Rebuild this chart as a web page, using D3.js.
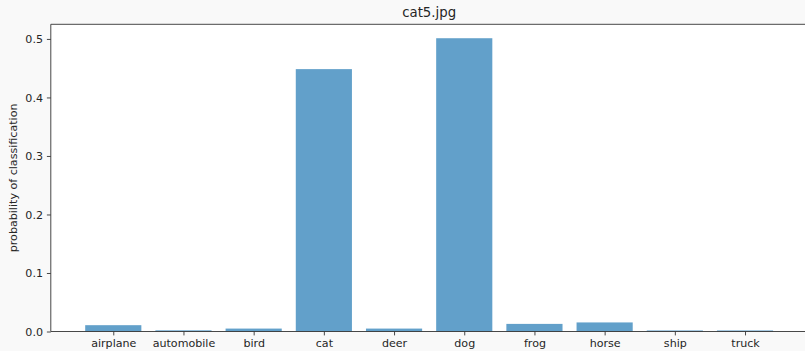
<!DOCTYPE html>
<html><head><meta charset="utf-8">
<script src="https://cdn.jsdelivr.net/npm/d3@7"></script>
<style>
body{margin:0;background:#f9f9f9;}
svg{display:block;font-family:"DejaVu Sans",sans-serif;}
</style></head><body>
<svg id="c" width="805" height="351"></svg>
<script>
const categories = ["airplane","automobile","bird","cat","deer","dog","frog","horse","ship","truck"];
const values = [0.0108, 0.002, 0.005, 0.4484, 0.005, 0.5012, 0.013, 0.0155, 0.0018, 0.0018];
const yTicks = [0.0, 0.1, 0.2, 0.3, 0.4, 0.5];
const title = "cat5.jpg";
const yLabel = "probability of classification";

const svg = d3.select("#c");
const L = 50.8, R = 807.5, T = 24.3, B = 331.5;
const x = d3.scaleLinear().domain([-0.89, 9.89]).range([L, R]);
const y = d3.scaleLinear().domain([0, 0.525]).range([B, T]);
const bw = x(0.8) - x(0);

svg.append("rect").attr("width",805).attr("height",351).attr("fill","#f9f9f9");
svg.append("rect").attr("x",L).attr("y",T).attr("width",R-L).attr("height",B-T).attr("fill","#fff");

svg.selectAll("rect.bar").data(values).enter().append("rect")
  .attr("class","bar")
  .attr("x",(d,i)=>x(i)-bw/2).attr("width",bw)
  .attr("y",d=>y(d)).attr("height",d=>B-y(d))
  .attr("fill","#1f77b4").attr("fill-opacity",0.7);

const xAxis = d3.axisBottom(x).tickValues(d3.range(categories.length))
  .tickFormat(i=>categories[i]).tickSize(3.9).tickPadding(3.9);
const gx = svg.append("g").attr("transform",`translate(0,${B})`).call(xAxis);
gx.select(".domain").remove();
gx.selectAll("line").attr("stroke","#333").attr("stroke-width",0.9);
gx.selectAll("text").attr("font-size",11.1).attr("fill","#262626").attr("font-family","DejaVu Sans");

const yAxis = d3.axisLeft(y).tickValues(yTicks).tickFormat(d3.format(".1f")).tickSize(3.9).tickPadding(3.9);
const gy = svg.append("g").attr("transform",`translate(${L},0)`).call(yAxis);
gy.select(".domain").remove();
gy.selectAll("line").attr("stroke","#333").attr("stroke-width",0.9);
gy.selectAll("text").attr("font-size",11.1).attr("fill","#262626").attr("font-family","DejaVu Sans");

// spines
const sp = svg.append("g").attr("stroke","#333").attr("stroke-width",0.9).attr("fill","none");
sp.append("line").attr("x1",L).attr("x2",L).attr("y1",T).attr("y2",B);
sp.append("line").attr("x1",L).attr("x2",R).attr("y1",T).attr("y2",T);
sp.append("line").attr("x1",L).attr("x2",R).attr("y1",B).attr("y2",B);
sp.append("line").attr("x1",R).attr("x2",R).attr("y1",T).attr("y2",B);

svg.append("text").attr("x",(L+R)/2).attr("y",T-7).attr("text-anchor","middle")
  .attr("font-size",13.3).attr("fill","#262626").text(title);

svg.append("text").attr("transform",`translate(17,${(T+B)/2}) rotate(-90)`)
  .attr("text-anchor","middle").attr("font-size",11.1).attr("fill","#262626").text(yLabel);
</script></body></html>
